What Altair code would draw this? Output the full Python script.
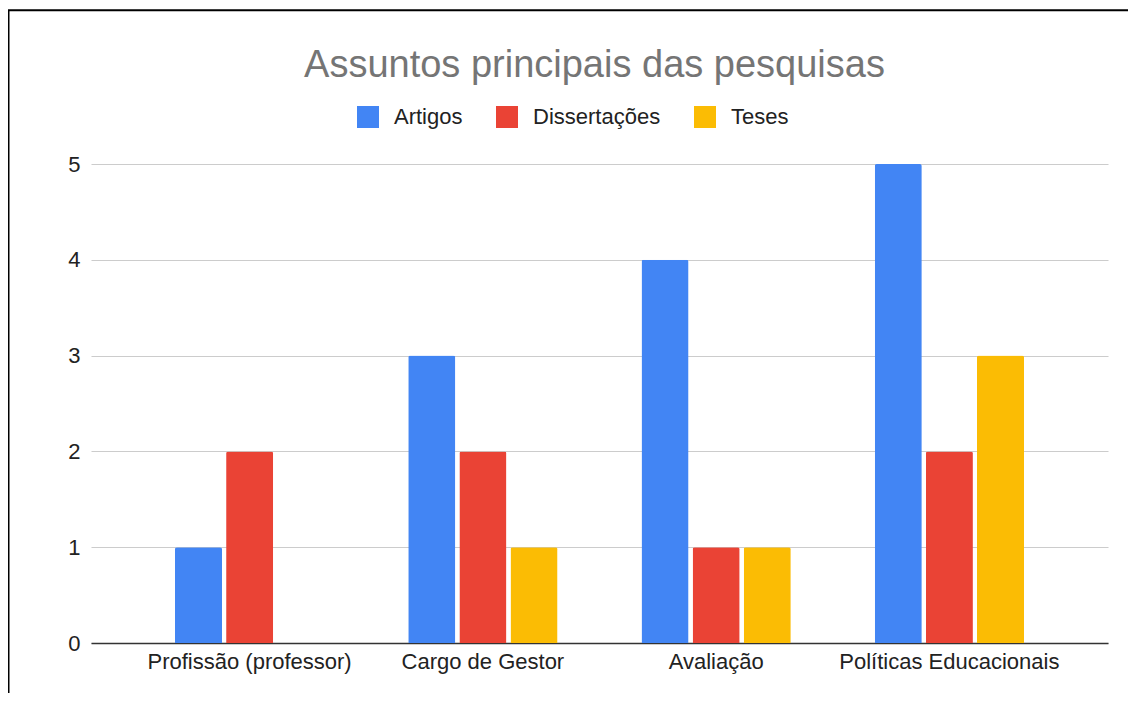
import altair as alt
import pandas as pd

categories = ["Profissão (professor)", "Cargo de Gestor", "Avaliação", "Políticas Educacionais"]
series = ["Artigos", "Dissertações", "Teses"]
artigos = [1, 3, 4, 5]
dissertacoes = [2, 2, 1, 2]
teses = [0, 1, 1, 3]
colors = ["#4285F4", "#EA4335", "#FBBC04"]
y_ticks = [0, 1, 2, 3, 4, 5]

rows = []
for i, c in enumerate(categories):
    for s, vals in zip(series, [artigos, dissertacoes, teses]):
        rows.append({"cat": c, "serie": s, "valor": vals[i]})
df = pd.DataFrame(rows)

FONT = "Liberation Sans"
W, H = 1017, 479

bars = alt.Chart(df).mark_bar(cornerRadiusTopLeft=2, cornerRadiusTopRight=2).encode(
    x=alt.X("cat:N", sort=categories, title=None,
            scale=alt.Scale(paddingInner=0.36, paddingOuter=0.36),
            axis=alt.Axis(labelAngle=0, labelFontSize=22, labelFont=FONT, labelColor="#222222",
                          labelPadding=8, labelLimit=0, ticks=False, domainColor="#333333",
                          domainWidth=1.5, grid=False)),
    xOffset=alt.XOffset("serie:N", sort=series, scale=alt.Scale(paddingInner=0.08)),
    y=alt.Y("valor:Q", title=None, scale=alt.Scale(domain=[0, 5], nice=False),
            axis=alt.Axis(values=y_ticks, labelFontSize=22, labelFont=FONT, labelColor="#222222",
                          labelPadding=11, ticks=False, domain=False, gridColor="#cccccc",
                          gridWidth=1.2)),
    color=alt.Color("serie:N", sort=series,
                    scale=alt.Scale(domain=series, range=colors),
                    legend=alt.Legend(title=None, orient="none", legendX=266, legendY=-58,
                                      direction="horizontal", symbolType="square",
                                      symbolSize=484, symbolStrokeWidth=0, symbolOpacity=1,
                                      labelFontSize=22, labelFont=FONT, labelColor="#222222",
                                      labelOffset=15, columnPadding=33, padding=0)),
)

frame = alt.Chart(pd.DataFrame({"a": [0]})).mark_rect(
    filled=False, stroke="#000000", strokeWidth=2
).encode(
    x=alt.value(-82.5), x2=alt.value(W + 100),
    y=alt.value(-153.7), y2=alt.value(H + 100),
)

chart = alt.layer(bars, frame).properties(
    width=W, height=H,
    background="white",
    autosize=alt.AutoSizeParams(type="none"),
    padding={"left": 83, "top": 156, "right": 20, "bottom": 50},
    title=alt.TitleParams("Assuntos principais das pesquisas", fontSize=38, font=FONT,
                          color="#757575", fontWeight="normal", anchor="middle",
                          baseline="alphabetic", frame="group", offset=-106, dx=-5),
).configure_view(stroke="transparent", strokeWidth=0)

chart.save("out.html", embed_options={"renderer": "svg", "actions": False})
